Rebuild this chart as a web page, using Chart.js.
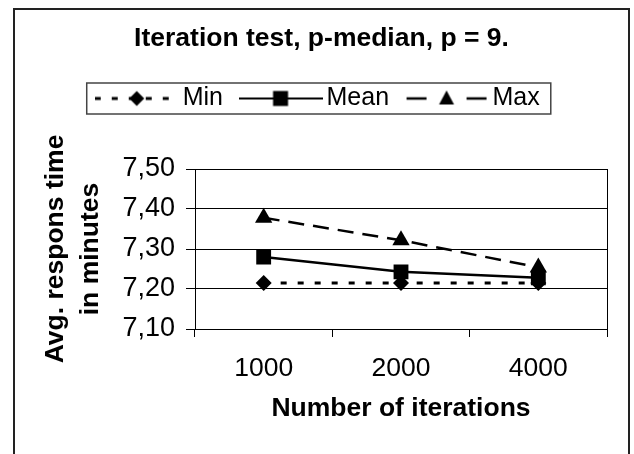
<!DOCTYPE html>
<html>
<head>
<meta charset="utf-8">
<script src="https://cdn.jsdelivr.net/npm/chart.js@4.4.1/dist/chart.umd.min.js"></script>
<style>
  html, body { margin: 0; padding: 0; background: #fff; }
  #wrap { position: relative; width: 634px; height: 454px; overflow: hidden; }
  #frame { position: absolute; left: 13px; top: 8px; width: 617px; height: 470px;
           border: 2px solid #222; border-bottom: none; box-sizing: border-box; }
  #chart { position: absolute; left: 0; top: 0; }
</style>
</head>
<body>
<div id="wrap">
  <div id="frame"></div>
  <canvas id="chart" width="634" height="454"></canvas>
</div>
<script>
// data
const categories = ['1000', '2000', '4000'];
const minValues = [7.215, 7.215, 7.215];
const meanValues = [7.28, 7.243, 7.228];
const maxValues = [7.378, 7.322, 7.254];
const yTicks = [7.1, 7.2, 7.3, 7.4, 7.5];

Chart.defaults.font.family = "'Liberation Sans', Arial, sans-serif";
Chart.defaults.color = '#000';

// legend samples: line piece with the marker in the middle
function legendIcon(kind) {
  const c = document.createElement('canvas');
  c.width = 84; c.height = 20;
  const g = c.getContext('2d');
  const cx = 42, cy = 10;
  g.strokeStyle = '#000';
  g.fillStyle = '#000';
  g.beginPath();
  if (kind === 'min') {
    g.lineWidth = 3;
    g.setLineDash([6, 11]);
    g.moveTo(0, cy); g.lineTo(84, cy); g.stroke();
    g.setLineDash([]);
    g.beginPath();
    g.moveTo(cx, cy - 7.5); g.lineTo(cx + 7.5, cy); g.lineTo(cx, cy + 7.5); g.lineTo(cx - 7.5, cy);
    g.closePath(); g.fill();
  } else if (kind === 'mean') {
    g.lineWidth = 2;
    g.moveTo(0, cy); g.lineTo(84, cy); g.stroke();
    g.fillRect(cx - 7.5, cy - 7.5, 15, 15);
  } else {
    g.lineWidth = 2.5;
    g.moveTo(2, cy); g.lineTo(22, cy);
    g.moveTo(62, cy); g.lineTo(82, cy);
    g.stroke();
    g.beginPath();
    g.moveTo(cx, cy - 8); g.lineTo(cx + 7.5, cy + 6); g.lineTo(cx - 7.5, cy + 6);
    g.closePath(); g.fill();
  }
  return c;
}
const icons = [legendIcon('min'), legendIcon('mean'), legendIcon('max')];

const legendBox = {
  id: 'legendBox',
  afterDraw(chart) {
    const boxes = chart.legend.legendHitBoxes;
    if (!boxes || !boxes.length) return;
    const left = Math.min(...boxes.map(b => b.left)) - 16.5;
    const right = Math.max(...boxes.map(b => b.left + b.width)) + 11;
    const top = boxes[0].top - 3;
    const bottom = boxes[0].top + boxes[0].height + 3;
    const ctx = chart.ctx;
    ctx.save();
    ctx.strokeStyle = '#444';
    ctx.lineWidth = 1.5;
    ctx.strokeRect(left, top, right - left, bottom - top);
    ctx.restore();
  }
};

new Chart(document.getElementById('chart'), {
  type: 'line',
  data: {
    labels: categories,
    datasets: [
      {
        label: 'Min',
        data: minValues,
        borderColor: '#000',
        backgroundColor: '#000',
        borderWidth: 3,
        borderDash: [6, 11],
        pointStyle: 'rectRot',
        pointRadius: 8,
        pointBorderWidth: 0
      },
      {
        label: 'Mean',
        data: meanValues,
        borderColor: '#000',
        backgroundColor: '#000',
        borderWidth: 2.5,
        pointStyle: 'rect',
        pointRadius: 10.5,
        pointBorderWidth: 0
      },
      {
        label: 'Max',
        data: maxValues,
        borderColor: '#000',
        backgroundColor: '#000',
        borderWidth: 2.5,
        borderDash: [16, 9],
        pointStyle: 'triangle',
        pointRadius: 10,
        pointBorderWidth: 0
      }
    ]
  },
  options: {
    responsive: false,
    animation: false,
    layout: { padding: { left: 36, right: 27, top: 10, bottom: 0 } },
    plugins: {
      title: {
        display: true,
        text: 'Iteration test, p-median, p = 9.',
        font: { size: 26.5, weight: 'bold', lineHeight: '30px' },
        padding: { top: 14, bottom: 8 }
      },
      subtitle: {
        // empty spacer under the legend
        display: true,
        text: '',
        weight: 500,
        font: { size: 10, lineHeight: 1 },
        padding: { top: 0, bottom: 38 }
      },
      legend: {
        position: 'top',
        labels: {
          usePointStyle: true,
          pointStyleWidth: 67,
          padding: 24,
          font: { size: 25 },
          color: '#000',
          generateLabels: chart => chart.data.datasets.map((ds, i) => ({
            text: ds.label,
            pointStyle: icons[i],
            datasetIndex: i,
            fontColor: '#000',
            fillStyle: 'rgba(0,0,0,0)',
            strokeStyle: 'rgba(0,0,0,0)',
            lineWidth: 0
          }))
        },
        onClick: null
      },
      tooltip: { enabled: false }
    },
    scales: {
      x: {
        offset: true,
        grid: {
          offset: true,
          drawOnChartArea: true,
          color: c => c.tick ? 'rgba(0,0,0,0)' : '#000',
          tickColor: '#000',
          tickLength: 8
        },
        border: { color: '#000', width: 1 },
        ticks: { padding: 16, font: { size: 26.5 } },
        title: {
          display: true,
          text: 'Number of iterations',
          font: { size: 26.5, weight: 'bold', lineHeight: '30px' },
          padding: { top: 0, bottom: 30 }
        },
        afterFit: s => { s.height = 125; }
      },
      y: {
        min: 7.1,
        max: 7.5,
        afterBuildTicks: s => { s.ticks = yTicks.map(v => ({ value: v })); },
        grid: { color: '#000', tickLength: 9 },
        border: { color: '#000', width: 1 },
        ticks: {
          padding: 11,
          font: { size: 27 },
          callback: v => v.toFixed(2).replace('.', ',')
        },
        title: {
          display: true,
          text: ['Avg. respons time', 'in minutes'],
          font: { size: 26.5, weight: 'bold', lineHeight: '35px' },
          padding: { top: 2.5, bottom: 0 }
        },
        afterFit: s => { s.width = 159; }
      }
    }
  },
  plugins: [legendBox]
});
</script>
</body>
</html>
